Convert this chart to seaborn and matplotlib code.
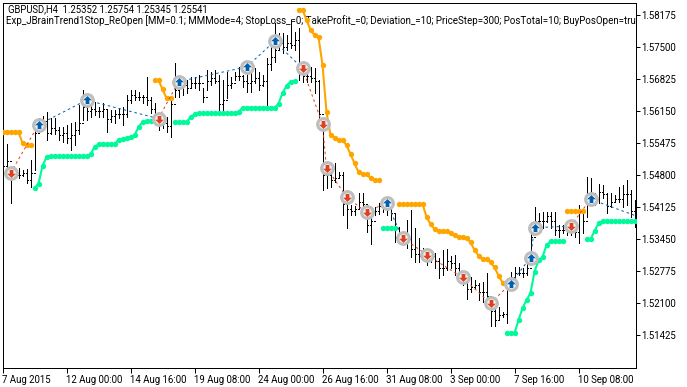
import matplotlib
matplotlib.use('Agg')
import matplotlib.pyplot as plt
import seaborn as sns
import numpy as np
from matplotlib.path import Path

# chart title text
title1 = 'GBPUSD,H4  1.25352 1.25754 1.25345 1.25541'
title2 = 'Exp_JBrainTrend1Stop_ReOpen [MM=0.1; MMMode=4; StopLoss_=0; TakeProfit_=0; Deviation_=10; PriceStep=300; PosTotal=10; BuyPosOpen=true'

x_ticks = [0, 16, 32, 48, 64, 80, 96, 112, 128, 144]
x_labels = ['7 Aug 2015', '12 Aug 00:00', '14 Aug 16:00', '19 Aug 08:00', '24 Aug 00:00',
            '26 Aug 16:00', '31 Aug 08:00', '3 Sep 00:00', '7 Sep 16:00', '10 Sep 08:00']
y_labels = ['1.58175', '1.57500', '1.56825', '1.56150', '1.55475', '1.54800',
            '1.54125', '1.53450', '1.52775', '1.52100', '1.51425']

# H4 bars
highs = [1.5534, 1.5546, 1.5491, 1.5491, 1.5496, 1.5491, 1.5493, 1.5512, 1.5580, 1.5601,
         1.5605, 1.5614, 1.5601, 1.5601, 1.5582, 1.5582, 1.5586, 1.5590, 1.5593, 1.5628,
         1.5660, 1.5633, 1.5633, 1.5635, 1.5624, 1.5633, 1.5618, 1.5618, 1.5618, 1.5622,
         1.5624, 1.5650, 1.5660, 1.5660, 1.5656, 1.5650, 1.5688, 1.5645, 1.5633, 1.5603,
         1.5597, 1.5603, 1.5639, 1.5717, 1.5675, 1.5688, 1.5681, 1.5688, 1.5688, 1.5692,
         1.5664, 1.5702, 1.5698, 1.5702, 1.5692, 1.5681, 1.5698, 1.5688, 1.5698, 1.5709,
         1.5692, 1.5713, 1.5698, 1.5707, 1.5698, 1.5692, 1.5728, 1.5772, 1.5801, 1.5780,
         1.5780, 1.5776, 1.5808, 1.5782, 1.5791, 1.5717, 1.5698, 1.5709, 1.5707, 1.5681,
         1.5590, 1.5498, 1.5506, 1.5506, 1.5487, 1.5487, 1.5449, 1.5417, 1.5415, 1.5443,
         1.5443, 1.5396, 1.5401, 1.5413, 1.5422, 1.5428, 1.5432, 1.5422, 1.5401, 1.5371,
         1.5358, 1.5386, 1.5407, 1.5369, 1.5348, 1.5327, 1.5318, 1.5318, 1.5316, 1.5306,
         1.5323, 1.5325, 1.5310, 1.5312, 1.5295, 1.5276, 1.5266, 1.5266, 1.5259, 1.5253,
         1.5255, 1.5274, 1.5217, 1.5211, 1.5202, 1.5192, 1.5238, 1.5276, 1.5287, 1.5287,
         1.5285, 1.5297, 1.5358, 1.5413, 1.5401, 1.5403, 1.5403, 1.5403, 1.5403, 1.5375,
         1.5375, 1.5375, 1.5386, 1.5369, 1.5417, 1.5407, 1.5477, 1.5474, 1.5443, 1.5462,
         1.5460, 1.5443, 1.5443, 1.5439, 1.5455, 1.5460, 1.5470, 1.5449, 1.5428]
lows = [1.5496, 1.5498, 1.5422, 1.5474, 1.5474, 1.5479, 1.5464, 1.5455, 1.5491, 1.5576,
        1.5586, 1.5555, 1.5567, 1.5567, 1.5555, 1.5550, 1.5548, 1.5534, 1.5544, 1.5567,
        1.5597, 1.5597, 1.5603, 1.5607, 1.5603, 1.5603, 1.5571, 1.5593, 1.5590, 1.5601,
        1.5586, 1.5603, 1.5633, 1.5639, 1.5639, 1.5633, 1.5628, 1.5612, 1.5597, 1.5576,
        1.5580, 1.5571, 1.5561, 1.5645, 1.5645, 1.5650, 1.5654, 1.5666, 1.5664, 1.5660,
        1.5635, 1.5660, 1.5671, 1.5675, 1.5618, 1.5612, 1.5643, 1.5664, 1.5681, 1.5681,
        1.5666, 1.5656, 1.5656, 1.5675, 1.5660, 1.5669, 1.5624, 1.5702, 1.5719, 1.5744,
        1.5738, 1.5744, 1.5749, 1.5744, 1.5681, 1.5677, 1.5677, 1.5677, 1.5654, 1.5601,
        1.5449, 1.5453, 1.5455, 1.5466, 1.5477, 1.5396, 1.5369, 1.5396, 1.5396, 1.5411,
        1.5407, 1.5360, 1.5335, 1.5396, 1.5398, 1.5403, 1.5396, 1.5386, 1.5339, 1.5339,
        1.5337, 1.5327, 1.5308, 1.5297, 1.5297, 1.5306, 1.5291, 1.5297, 1.5285, 1.5263,
        1.5270, 1.5280, 1.5285, 1.5270, 1.5259, 1.5249, 1.5219, 1.5234, 1.5242, 1.5217,
        1.5213, 1.5211, 1.5162, 1.5162, 1.5175, 1.5181, 1.5168, 1.5253, 1.5263, 1.5270,
        1.5266, 1.5270, 1.5295, 1.5360, 1.5369, 1.5369, 1.5382, 1.5369, 1.5354, 1.5350,
        1.5358, 1.5354, 1.5354, 1.5350, 1.5337, 1.5358, 1.5392, 1.5428, 1.5417, 1.5422,
        1.5432, 1.5401, 1.5413, 1.5424, 1.5424, 1.5413, 1.5417, 1.5392, 1.5371]
closes = [1.5500, 1.5510, 1.5480, 1.5480, 1.5480, 1.5485, 1.5470, 1.5485, 1.5570, 1.5590,
          1.5595, 1.5570, 1.5580, 1.5575, 1.5565, 1.5570, 1.5560, 1.5565, 1.5575, 1.5590,
          1.5625, 1.5615, 1.5620, 1.5615, 1.5615, 1.5620, 1.5600, 1.5605, 1.5610, 1.5610,
          1.5610, 1.5640, 1.5650, 1.5645, 1.5645, 1.5645, 1.5640, 1.5620, 1.5605, 1.5590,
          1.5590, 1.5585, 1.5630, 1.5660, 1.5665, 1.5670, 1.5665, 1.5675, 1.5675, 1.5675,
          1.5645, 1.5680, 1.5685, 1.5680, 1.5630, 1.5640, 1.5670, 1.5675, 1.5690, 1.5690,
          1.5680, 1.5675, 1.5680, 1.5685, 1.5670, 1.5680, 1.5715, 1.5730, 1.5745, 1.5760,
          1.5750, 1.5760, 1.5755, 1.5765, 1.5700, 1.5690, 1.5690, 1.5685, 1.5680, 1.5610,
          1.5480, 1.5480, 1.5470, 1.5475, 1.5480, 1.5420, 1.5410, 1.5405, 1.5410, 1.5425,
          1.5420, 1.5375, 1.5385, 1.5405, 1.5415, 1.5410, 1.5410, 1.5400, 1.5350, 1.5350,
          1.5350, 1.5345, 1.5325, 1.5315, 1.5310, 1.5315, 1.5305, 1.5310, 1.5300, 1.5285,
          1.5285, 1.5300, 1.5295, 1.5285, 1.5275, 1.5260, 1.5240, 1.5245, 1.5250, 1.5235,
          1.5235, 1.5225, 1.5195, 1.5175, 1.5185, 1.5188, 1.5260, 1.5265, 1.5275, 1.5275,
          1.5275, 1.5285, 1.5350, 1.5385, 1.5385, 1.5385, 1.5395, 1.5385, 1.5365, 1.5365,
          1.5365, 1.5365, 1.5370, 1.5360, 1.5405, 1.5385, 1.5440, 1.5440, 1.5430, 1.5445,
          1.5440, 1.5415, 1.5425, 1.5430, 1.5430, 1.5440, 1.5440, 1.5405, 1.5395]
opens = [1.5515, 1.5500, 1.5510, 1.5480, 1.5480, 1.5480, 1.5485, 1.5470, 1.5485, 1.5570,
         1.5590, 1.5595, 1.5570, 1.5580, 1.5575, 1.5565, 1.5570, 1.5560, 1.5565, 1.5575,
         1.5590, 1.5625, 1.5615, 1.5620, 1.5615, 1.5615, 1.5620, 1.5600, 1.5605, 1.5610,
         1.5610, 1.5610, 1.5640, 1.5650, 1.5645, 1.5645, 1.5645, 1.5640, 1.5620, 1.5605,
         1.5590, 1.5590, 1.5585, 1.5630, 1.5660, 1.5665, 1.5670, 1.5665, 1.5675, 1.5675,
         1.5675, 1.5645, 1.5680, 1.5685, 1.5680, 1.5630, 1.5640, 1.5670, 1.5675, 1.5690,
         1.5690, 1.5680, 1.5675, 1.5680, 1.5685, 1.5670, 1.5680, 1.5715, 1.5730, 1.5745,
         1.5760, 1.5750, 1.5760, 1.5755, 1.5765, 1.5700, 1.5690, 1.5690, 1.5685, 1.5680,
         1.5610, 1.5480, 1.5480, 1.5470, 1.5475, 1.5480, 1.5420, 1.5410, 1.5405, 1.5410,
         1.5425, 1.5420, 1.5375, 1.5385, 1.5405, 1.5415, 1.5410, 1.5410, 1.5400, 1.5350,
         1.5350, 1.5350, 1.5345, 1.5325, 1.5315, 1.5310, 1.5315, 1.5305, 1.5310, 1.5300,
         1.5285, 1.5285, 1.5300, 1.5295, 1.5285, 1.5275, 1.5260, 1.5240, 1.5245, 1.5250,
         1.5235, 1.5235, 1.5225, 1.5195, 1.5175, 1.5185, 1.5188, 1.5260, 1.5265, 1.5275,
         1.5275, 1.5275, 1.5285, 1.5350, 1.5385, 1.5385, 1.5385, 1.5395, 1.5385, 1.5365,
         1.5365, 1.5365, 1.5365, 1.5370, 1.5360, 1.5405, 1.5385, 1.5440, 1.5440, 1.5430,
         1.5445, 1.5440, 1.5415, 1.5425, 1.5430, 1.5430, 1.5440, 1.5440, 1.5405]

# BrainTrend stop line, runs as (first bar index, values)
down_runs = [
    (0, [1.5572, 1.5572, 1.5572, 1.5572, 1.5572, 1.5548, 1.5544, 1.5544]),
    (38, [1.5681, 1.5681, 1.5662, 1.5643, 1.5643]),
    (74, [1.5830, 1.5830, 1.5808, 1.5787, 1.5776, 1.5772, 1.5713, 1.5614, 1.5565, 1.5559, 1.5554,
          1.5555, 1.5544, 1.5525, 1.5506, 1.5487, 1.5483, 1.5483, 1.5474, 1.5470, 1.5470]),
    (99, [1.5420, 1.5420, 1.5420, 1.5420, 1.5420, 1.5420, 1.5420, 1.5393, 1.5377, 1.5367, 1.5363,
          1.5363, 1.5363, 1.5358, 1.5354, 1.5351, 1.5350, 1.5348, 1.5339, 1.5323, 1.5311, 1.5303,
          1.5303, 1.5297, 1.5286, 1.5269, 1.5254]),
    (141, [1.5406, 1.5406, 1.5406, 1.5406, 1.5406]),
]
up_runs = [
    (8, [1.5453, 1.5463, 1.5500, 1.5519, 1.5521, 1.5521, 1.5521, 1.5521, 1.5521, 1.5521, 1.5521,
         1.5521, 1.5521, 1.5521, 1.5525, 1.5540, 1.5546, 1.5546, 1.5546, 1.5546, 1.5546, 1.5555,
         1.5556, 1.5559, 1.5561, 1.5565, 1.5582, 1.5593, 1.5595, 1.5596]),
    (43, [1.5593, 1.5593, 1.5593, 1.5593, 1.5603, 1.5609, 1.5611, 1.5611, 1.5611, 1.5611, 1.5611,
          1.5611, 1.5611, 1.5611, 1.5611, 1.5611, 1.5614, 1.5623, 1.5623, 1.5623, 1.5623, 1.5623,
          1.5623, 1.5623, 1.5623, 1.5623, 1.5631, 1.5654, 1.5669, 1.5678, 1.5679]),
    (95, [1.5370, 1.5370, 1.5370, 1.5370]),
    (126, [1.5147, 1.5147, 1.5147, 1.5175, 1.5200, 1.5217, 1.5232, 1.5277, 1.5301, 1.5308, 1.5333,
           1.5341, 1.5341, 1.5341, 1.5341]),
    (146, [1.5345, 1.5345, 1.5363, 1.5379, 1.5384, 1.5384, 1.5384, 1.5384, 1.5384, 1.5384, 1.5384,
           1.5384, 1.5384]),
]

# deals: bar index, price, side
deal_bars = [2, 9, 21, 39, 44, 61, 68, 75, 80, 81, 86, 91, 96, 100, 106, 115, 122, 127, 132, 133, 142, 147]
deal_prices = [1.5485, 1.5587, 1.5639, 1.5600, 1.5678, 1.5709, 1.5763, 1.5706, 1.5588, 1.5496, 1.5435,
               1.5402, 1.5423, 1.5349, 1.5313, 1.5265, 1.5210, 1.5252, 1.5307, 1.5370, 1.5373, 1.5430]
deal_sides = ['s', 'b', 'b', 's', 'b', 'b', 'b', 's', 's', 's', 's',
              's', 'b', 's', 's', 's', 's', 'b', 'b', 'b', 's', 'b']
last_bar = 158
last_price = 1.5396

BLUE = '#0060b0'
RED = '#e04020'
ORANGE = '#ffa500'
GREEN = '#00fa9a'
GREY = '#bebebe'

sns.set_theme(style='white')
plt.rcParams['font.family'] = ['Roboto', 'DejaVu Sans']

W, H = 687, 387
fig = plt.figure(figsize=(W / 100, H / 100), dpi=100, facecolor='white')
ax = fig.add_axes([2.5 / W, 1 - 367.5 / H, 633 / W, 365 / H])

bars = np.arange(len(highs))
ax.vlines(bars, lows, highs, color='black', lw=0.72, zorder=2, antialiased=False)
ax.hlines(opens, bars - 0.25, bars, color='black', lw=0.72, zorder=2, antialiased=False)
ax.hlines(closes, bars, bars + 0.4, color='black', lw=0.72, zorder=2, antialiased=False)

# stop lines with round dots
for runs, col in [(down_runs, ORANGE), (up_runs, GREEN)]:
    for start, vals in runs:
        xs = np.arange(start, start + len(vals))
        sns.lineplot(x=xs, y=vals, ax=ax, color=col, lw=1.5, estimator=None, zorder=3)
        sns.scatterplot(x=xs, y=vals, ax=ax, color=col, s=15, linewidth=0, zorder=3)

# dashed deal lines, coloured by the deal they start from
path_bars = deal_bars + [last_bar]
path_prices = deal_prices + [last_price]
for k, side in enumerate(deal_sides):
    sns.lineplot(x=path_bars[k:k + 2], y=path_prices[k:k + 2], ax=ax, estimator=None,
                 color=BLUE if side == 'b' else RED, lw=0.72, dashes=(2.5, 3), zorder=4)

up_arrow = Path([(0, 1), (-1, 0.05), (-0.42, 0.05), (-0.42, -0.8), (0.42, -0.8), (0.42, 0.05), (1, 0.05), (0, 1)], closed=True)
down_arrow = Path([(0, -1), (-1, -0.05), (-0.42, -0.05), (-0.42, 0.8), (0.42, 0.8), (0.42, -0.05), (1, -0.05), (0, -1)], closed=True)

sns.scatterplot(x=deal_bars, y=deal_prices, ax=ax, s=72, facecolor='#f2f2f2', edgecolor=GREY, linewidth=2.2, zorder=5)
for side, arrow, col in [('b', up_arrow, BLUE), ('s', down_arrow, RED)]:
    xs = [b for b, d in zip(deal_bars, deal_sides) if d == side]
    ys = [p for p, d in zip(deal_prices, deal_sides) if d == side]
    sns.scatterplot(x=xs, y=ys, ax=ax, marker=arrow, s=40, color=col, linewidth=0, zorder=6)

ax.set_xlim(0, 158.25)
ax.set_ylim(1.5075, 1.584492)

for spine in ax.spines.values():
    spine.set_visible(True)
    spine.set_color('black')
    spine.set_linewidth(0.72)

ax.set_xticks(x_ticks)
ax.set_xticklabels(x_labels, ha='left')
ax.set_yticks([float(v) for v in y_labels])
ax.set_yticklabels(y_labels)
ax.yaxis.tick_right()
ax.tick_params(axis='x', bottom=True, length=3.6, width=0.72, color='black', labelsize=6.9, pad=1.5, labelcolor='black')
ax.tick_params(axis='y', right=True, length=3.2, width=0.72, color='black', labelsize=6.9, pad=1, labelcolor='black')
ax.set_xlabel('')
ax.set_ylabel('')

ax.text(5 / 633, 1 - 7 / 365, title1, transform=ax.transAxes, fontsize=6.85, va='center', color='black', zorder=1)
ax.text(3.5 / 633, 1 - 18 / 365, title2, transform=ax.transAxes, fontsize=7, va='center', color='black', zorder=1, clip_on=True)

fig.savefig('out.png', dpi=100)
